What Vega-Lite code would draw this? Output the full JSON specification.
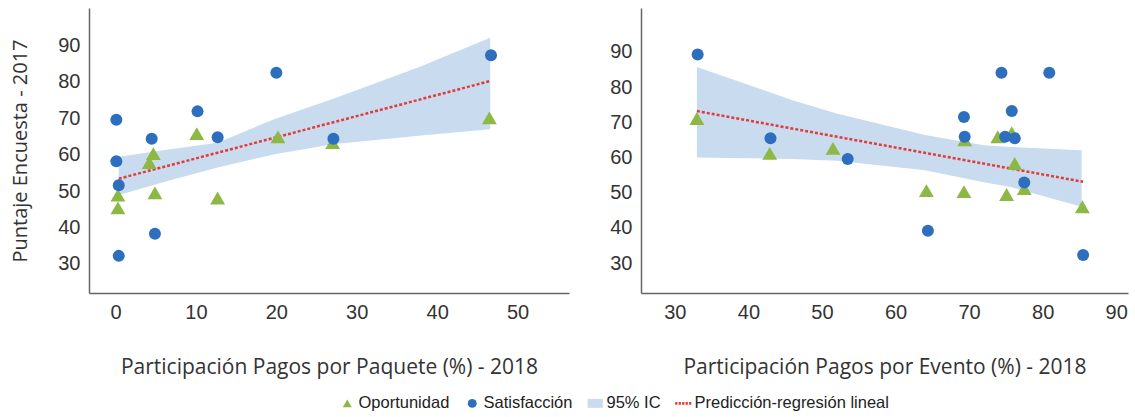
{
  "$schema": "https://vega.github.io/schema/vega-lite/v6.json",
  "padding": {"left": 10, "top": 8, "right": 5, "bottom": 5},
  "background": "white",
  "spacing": 40,
  "config": {
    "view": {"stroke": null},
    "axis": {
      "grid": false, "ticks": false, "domainColor": "#666666", "domainWidth": 1.5,
      "labelFont": "Liberation Sans", "labelFontSize": 20, "labelColor": "#333333", "labelPadding": 9,
      "titleFont": "Open Sans", "titleFontSize": 21, "titleFontWeight": "normal", "titleColor": "#333333"
    },
    "legend": {
      "labelFont": "Liberation Sans", "labelFontSize": 16.5, "labelColor": "#222222", "labelLimit": 0,
      "symbolSize": 80, "symbolStrokeWidth": 0, "columnPadding": 14, "labelOffset": 3
    }
  },
  "datasets": {
    "pts1": [
      {"x": 0.3, "y": 48.9, "serie": "Oportunidad"},
      {"x": 0.3, "y": 45.4, "serie": "Oportunidad"},
      {"x": 4.2, "y": 57.8, "serie": "Oportunidad"},
      {"x": 4.7, "y": 60.3, "serie": "Oportunidad"},
      {"x": 4.9, "y": 49.5, "serie": "Oportunidad"},
      {"x": 10.1, "y": 65.8, "serie": "Oportunidad"},
      {"x": 12.7, "y": 48.1, "serie": "Oportunidad"},
      {"x": 20.2, "y": 64.9, "serie": "Oportunidad"},
      {"x": 27.0, "y": 63.3, "serie": "Oportunidad"},
      {"x": 46.5, "y": 70.1, "serie": "Oportunidad"},
      {"x": 0.1, "y": 69.6, "serie": "Satisfacción"},
      {"x": 0.1, "y": 58.2, "serie": "Satisfacción"},
      {"x": 0.4, "y": 51.6, "serie": "Satisfacción"},
      {"x": 0.4, "y": 32.2, "serie": "Satisfacción"},
      {"x": 4.5, "y": 64.4, "serie": "Satisfacción"},
      {"x": 4.9, "y": 38.3, "serie": "Satisfacción"},
      {"x": 10.2, "y": 71.9, "serie": "Satisfacción"},
      {"x": 12.7, "y": 64.8, "serie": "Satisfacción"},
      {"x": 20.0, "y": 82.5, "serie": "Satisfacción"},
      {"x": 27.1, "y": 64.4, "serie": "Satisfacción"},
      {"x": 46.7, "y": 87.3, "serie": "Satisfacción"}
    ],
    "band1": [
      {"x": 0.4, "lo": 48.9, "hi": 59.4},
      {"x": 6.8, "lo": 53.0, "hi": 61.5},
      {"x": 12.7, "lo": 56.5, "hi": 63.3},
      {"x": 19.8, "lo": 60.1, "hi": 69.8},
      {"x": 27.0, "lo": 62.9, "hi": 75.3},
      {"x": 37.7, "lo": 65.2, "hi": 84.0},
      {"x": 46.6, "lo": 67.0, "hi": 92.1}
    ],
    "line1": [
      {"x": 0.4, "y": 53.4},
      {"x": 46.7, "y": 80.3}
    ],
    "pts2": [
      {"x": 33.0, "y": 71.1, "serie": "Oportunidad"},
      {"x": 42.9, "y": 61.2, "serie": "Oportunidad"},
      {"x": 51.5, "y": 62.6, "serie": "Oportunidad"},
      {"x": 64.2, "y": 50.6, "serie": "Oportunidad"},
      {"x": 69.3, "y": 50.3, "serie": "Oportunidad"},
      {"x": 69.4, "y": 65.0, "serie": "Oportunidad"},
      {"x": 73.9, "y": 65.9, "serie": "Oportunidad"},
      {"x": 75.1, "y": 49.5, "serie": "Oportunidad"},
      {"x": 75.8, "y": 67.1, "serie": "Oportunidad"},
      {"x": 76.2, "y": 58.3, "serie": "Oportunidad"},
      {"x": 77.5, "y": 51.2, "serie": "Oportunidad"},
      {"x": 85.4, "y": 46.0, "serie": "Oportunidad"},
      {"x": 33.1, "y": 89.3, "serie": "Satisfacción"},
      {"x": 43.0, "y": 65.5, "serie": "Satisfacción"},
      {"x": 53.5, "y": 59.6, "serie": "Satisfacción"},
      {"x": 64.4, "y": 39.2, "serie": "Satisfacción"},
      {"x": 69.3, "y": 71.5, "serie": "Satisfacción"},
      {"x": 69.4, "y": 65.9, "serie": "Satisfacción"},
      {"x": 74.4, "y": 84.1, "serie": "Satisfacción"},
      {"x": 74.9, "y": 65.9, "serie": "Satisfacción"},
      {"x": 75.8, "y": 73.2, "serie": "Satisfacción"},
      {"x": 76.2, "y": 65.5, "serie": "Satisfacción"},
      {"x": 77.5, "y": 52.9, "serie": "Satisfacción"},
      {"x": 80.9, "y": 84.1, "serie": "Satisfacción"},
      {"x": 85.5, "y": 32.3, "serie": "Satisfacción"}
    ],
    "band2": [
      {"x": 33.0, "lo": 60.0, "hi": 85.7},
      {"x": 46.0, "lo": 59.6, "hi": 76.3},
      {"x": 52.0, "lo": 59.1, "hi": 72.5},
      {"x": 64.0, "lo": 56.4, "hi": 66.4},
      {"x": 72.0, "lo": 53.0, "hi": 63.5},
      {"x": 75.5, "lo": 51.7, "hi": 63.0},
      {"x": 85.3, "lo": 46.0, "hi": 62.1}
    ],
    "line2": [
      {"x": 33.0, "y": 73.2},
      {"x": 85.5, "y": 53.1}
    ]
  },
  "hconcat": [
    {
      "width": 480,
      "height": 285,
      "layer": [
        {
          "data": {"name": "band1"},
          "mark": {"type": "area", "color": "#c8dbef", "opacity": 1},
          "encoding": {
            "x": {"field": "x", "type": "quantitative",
              "scale": {"domain": [-3.3, 56.4], "nice": false, "zero": false},
              "axis": {"values": [0, 10, 20, 30, 40, 50], "title": "Participación Pagos por Paquete (%) - 2018", "titlePadding": 34}},
            "y": {"field": "lo", "type": "quantitative",
              "scale": {"domain": [22, 100.3], "nice": false, "zero": false},
              "axis": {"values": [30, 40, 50, 60, 70, 80, 90], "title": "Puntaje Encuesta - 2017", "titlePadding": 27, "titleFontSize": 20}},
            "y2": {"field": "hi"}
          }
        },
        {
          "data": {"name": "line1"},
          "mark": {"type": "line", "color": "#e23b3b", "strokeDash": [3, 2], "strokeWidth": 2.5},
          "encoding": {
            "x": {"field": "x", "type": "quantitative"},
            "y": {"field": "y", "type": "quantitative"}
          }
        },
        {
          "data": {"name": "pts1"},
          "transform": [{"filter": "datum.serie === 'Oportunidad'"}],
          "mark": {"type": "point", "filled": true, "size": 220, "opacity": 1},
          "encoding": {
            "x": {"field": "x", "type": "quantitative"},
            "y": {"field": "y", "type": "quantitative"},
            "color": {"field": "serie", "type": "nominal",
              "scale": {"domain": ["Oportunidad", "Satisfacción", "95% IC", "Predicción-regresión lineal"], "range": ["#8cb843", "#2e6ebf", "#c8dbef", "#e23b3b"]},
              "legend": {"title": null, "orient": "none", "legendX": 250, "legendY": 387, "direction": "horizontal"}},
            "shape": {"field": "serie", "type": "nominal",
              "scale": {"domain": ["Oportunidad", "Satisfacción", "95% IC", "Predicción-regresión lineal"], "range": ["triangle-up", "circle", "M-1.7,-1H1.7V1H-1.7Z", "M-1.8,-0.3H-1.3V0.3H-1.8Z M-1.03,-0.3H-0.53V0.3H-1.03Z M-0.25,-0.3H0.25V0.3H-0.25Z M0.53,-0.3H1.03V0.3H0.53Z M1.3,-0.3H1.8V0.3H1.3Z"]},
              "legend": {"title": null, "orient": "none", "legendX": 250, "legendY": 387, "direction": "horizontal"}}
          }
        },
        {
          "data": {"name": "pts1"},
          "transform": [{"filter": "datum.serie === 'Satisfacción'"}],
          "mark": {"type": "point", "filled": true, "size": 144, "opacity": 1},
          "encoding": {
            "x": {"field": "x", "type": "quantitative"},
            "y": {"field": "y", "type": "quantitative"},
            "color": {"field": "serie", "type": "nominal"},
            "shape": {"field": "serie", "type": "nominal"}
          }
        }
      ]
    },
    {
      "width": 487,
      "height": 285,
      "layer": [
        {
          "data": {"name": "band2"},
          "mark": {"type": "area", "color": "#c8dbef", "opacity": 1},
          "encoding": {
            "x": {"field": "x", "type": "quantitative",
              "scale": {"domain": [25.4, 91.6], "nice": false, "zero": false},
              "axis": {"values": [30, 40, 50, 60, 70, 80, 90], "title": "Participación Pagos por Evento (%) - 2018", "titlePadding": 34}},
            "y": {"field": "lo", "type": "quantitative",
              "scale": {"domain": [21.5, 102.5], "nice": false, "zero": false},
              "axis": {"values": [30, 40, 50, 60, 70, 80, 90], "title": null}},
            "y2": {"field": "hi"}
          }
        },
        {
          "data": {"name": "line2"},
          "mark": {"type": "line", "color": "#e23b3b", "strokeDash": [3, 2], "strokeWidth": 2.5},
          "encoding": {
            "x": {"field": "x", "type": "quantitative"},
            "y": {"field": "y", "type": "quantitative"}
          }
        },
        {
          "data": {"name": "pts2"},
          "transform": [{"filter": "datum.serie === 'Oportunidad'"}],
          "mark": {"type": "point", "filled": true, "size": 220, "opacity": 1},
          "encoding": {
            "x": {"field": "x", "type": "quantitative"},
            "y": {"field": "y", "type": "quantitative"},
            "color": {"field": "serie", "type": "nominal"},
            "shape": {"field": "serie", "type": "nominal"}
          }
        },
        {
          "data": {"name": "pts2"},
          "transform": [{"filter": "datum.serie === 'Satisfacción'"}],
          "mark": {"type": "point", "filled": true, "size": 144, "opacity": 1},
          "encoding": {
            "x": {"field": "x", "type": "quantitative"},
            "y": {"field": "y", "type": "quantitative"},
            "color": {"field": "serie", "type": "nominal"},
            "shape": {"field": "serie", "type": "nominal"}
          }
        }
      ]
    }
  ]
}
